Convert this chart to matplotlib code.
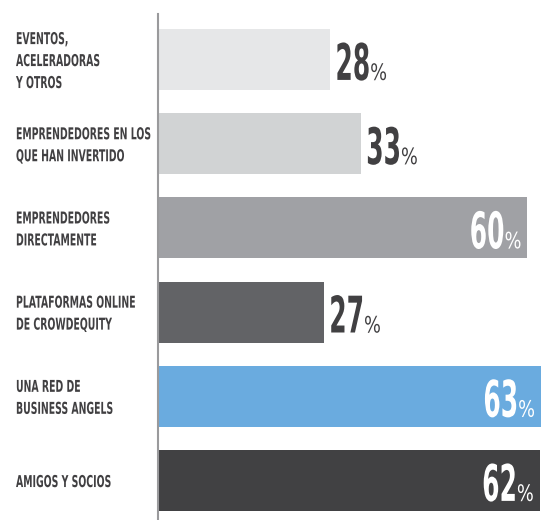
import matplotlib
matplotlib.use("Agg")
import matplotlib.pyplot as plt
from matplotlib import transforms, patheffects
from matplotlib.transforms import Affine2D, Bbox
from matplotlib.text import Text

categories = ["EVENTOS,\nACELERADORAS\nY OTROS",
              "EMPRENDEDORES EN LOS\nQUE HAN INVERTIDO",
              "EMPRENDEDORES\nDIRECTAMENTE",
              "PLATAFORMAS ONLINE\nDE CROWDEQUITY",
              "UNA RED DE\nBUSINESS ANGELS",
              "AMIGOS Y SOCIOS"]
values = [28, 33, 60, 27, 63, 62]
colors = ["#e6e7e8", "#d1d3d4", "#a0a1a5", "#626366", "#6aabdf", "#414143"]
inside = [False, False, True, False, True, True]

TXT = "#414042"


class Stretch(patheffects.AbstractPathEffect):
    """Draw text glyphs scaled about the line origin (baseline-left)."""
    def __init__(self, sx=1.0, sy=1.0):
        super().__init__()
        self.sx, self.sy = sx, sy

    def draw_path(self, renderer, gc, tpath, affine, rgbFace=None):
        renderer.draw_path(gc, tpath,
                           Affine2D().scale(self.sx, self.sy) + affine, rgbFace)


class CondensedText(Text):
    """Left-aligned text drawn with a horizontal condensation factor."""
    def __init__(self, x, y, s, sx=1.0, **kw):
        super().__init__(x, y, s, ha="left", path_effects=[Stretch(sx, 1.0)], **kw)
        self._sx = sx

    def get_window_extent(self, renderer=None, dpi=None):
        bb = super().get_window_extent(renderer, dpi)
        return Bbox.from_extents(bb.x0, bb.y0, bb.x0 + (bb.x1 - bb.x0) * self._sx, bb.y1)


SX_LAB, LAB_FS = 0.57, 11.8
NUM_FS, NUM_SY = 18.0, 2.02
PCT_FS, PCT_SY = 12.8, 1.27

fig = plt.figure(figsize=(5.41, 5.20), dpi=100)
ax = fig.add_axes([158 / 541, 0, 1 - 158 / 541, 1 - 14 / 520])

ypos = list(range(len(values)))
ax.barh(ypos, values, height=0.725, color=colors, zorder=2)
ax.set_xlim(0, 62.2)
ax.set_ylim(5.47, -0.54)

for s in ["top", "right", "bottom"]:
    ax.spines[s].set_visible(False)
ax.spines["left"].set_color("#9a9a9c")
ax.spines["left"].set_linewidth(1.5)
ax.spines["left"].set_zorder(3)
ax.set_xticks([])
ax.set_yticks([])

# category labels
tlab = transforms.blended_transform_factory(fig.transFigure, ax.transData)
for y, c in zip(ypos, categories):
    t = CondensedText(16 / 541, y + 0.025, c, sx=SX_LAB, transform=tlab,
                      va="center", fontsize=LAB_FS, fontweight="bold",
                      color=TXT, family="DejaVu Sans", linespacing=1.58,
                      clip_on=False)
    fig.add_artist(t)

fig.canvas.draw()
r = fig.canvas.get_renderer()
inv = ax.transData.inverted()
xmax = ax.get_xlim()[1]


def to_data_x(px):
    return inv.transform((px, 0))[0]


for y, v, ins in zip(ypos, values, inside):
    yb = y + 0.243
    col = "white" if ins else TXT
    tn = ax.text(0, yb, str(v), ha="left", va="baseline", fontsize=NUM_FS,
                 fontweight="bold", color=col,
                 path_effects=[Stretch(1.0, NUM_SY)])
    tp = ax.text(0, yb, "%", ha="left", va="baseline", fontsize=PCT_FS,
                 color=col, path_effects=[Stretch(1.0, PCT_SY)])
    wn = tn.get_window_extent(r).width
    wp = tp.get_window_extent(r).width
    if not ins:
        endpx = ax.transData.transform((v, 0))[0]
        x0 = endpx + 5
    else:
        endpx = ax.transData.transform((min(v, xmax), 0))[0]
        x0 = endpx - 6 - wp - wn
    tn.set_x(to_data_x(x0))
    tp.set_x(to_data_x(x0 + wn))

fig.savefig("out.png", dpi=100)
